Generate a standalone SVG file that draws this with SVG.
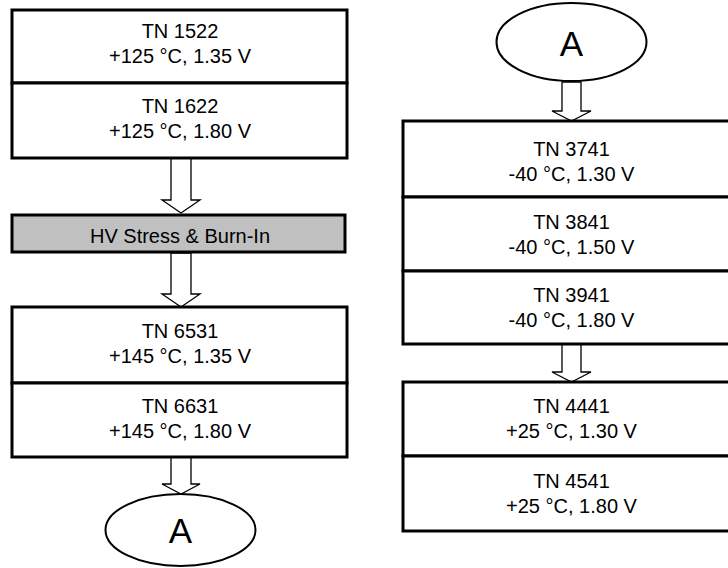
<svg xmlns="http://www.w3.org/2000/svg" width="728" height="568" viewBox="0 0 728 568">
<style>
.box{fill:#fff;stroke:#000;stroke-width:3}
.gray{fill:#c0c0c0;stroke:#000;stroke-width:3}
.ell{fill:#fff;stroke:#000;stroke-width:2}
.arr{fill:#fff;stroke:#000;stroke-width:1.3}
text{font-family:"Liberation Sans",Arial,sans-serif;font-size:20px;text-anchor:middle;fill:#000}
.big{font-size:35px}
</style>
<rect width="728" height="568" fill="#fff"/>
<g id="connectors">
<polygon class="arr" points="171,158 191,158 191,200 200,200 181,213 162,200 171,200"/>
<polygon class="arr" points="171,253 191,253 191,294 200,294 181,307 162,294 171,294"/>
<polygon class="arr" points="171,457 191,457 191,484 200,484 181,494 162,484 171,484"/>
<polygon class="arr" points="562,82 581,82 581,111 591,111 571.5,121 552,111 562,111"/>
<polygon class="arr" points="562,344 581,344 581,372 591,372 571.5,382 552,372 562,372"/>
</g>
<g id="tn1522"><rect class="box" x="12" y="10" width="335" height="73"/><text x="180" y="38">TN 1522</text><text x="180" y="63">+125 °C, 1.35 V</text></g>
<g id="tn1622"><rect class="box" x="12" y="83" width="335" height="75"/><text x="180" y="113">TN 1622</text><text x="180" y="138">+125 °C, 1.80 V</text></g>
<g id="hv"><rect class="gray" x="12" y="215" width="333" height="37"/><text x="180" y="243">HV Stress &amp; Burn-In</text></g>
<g id="tn6531"><rect class="box" x="12" y="307" width="335" height="76"/><text x="180" y="338">TN 6531</text><text x="180" y="363">+145 °C, 1.35 V</text></g>
<g id="tn6631"><rect class="box" x="12" y="383" width="335" height="74"/><text x="180" y="413">TN 6631</text><text x="180" y="438">+145 °C, 1.80 V</text></g>
<g id="a1"><ellipse class="ell" cx="180.5" cy="530" rx="75" ry="36"/><text class="big" x="180.5" y="543">A</text></g>
<g id="a2"><ellipse class="ell" cx="571.5" cy="42" rx="75" ry="39"/><text class="big" x="571.5" y="56">A</text></g>
<g id="tn3741"><rect class="box" x="403" y="121" width="335" height="76"/><text x="571.5" y="156">TN 3741</text><text x="571.5" y="181">-40 °C, 1.30 V</text></g>
<g id="tn3841"><rect class="box" x="403" y="197" width="335" height="74"/><text x="571.5" y="229">TN 3841</text><text x="571.5" y="254">-40 °C, 1.50 V</text></g>
<g id="tn3941"><rect class="box" x="403" y="271" width="335" height="73"/><text x="571.5" y="302">TN 3941</text><text x="571.5" y="327">-40 °C, 1.80 V</text></g>
<g id="tn4441"><rect class="box" x="403" y="382" width="335" height="74"/><text x="571.5" y="413">TN 4441</text><text x="571.5" y="438">+25 °C, 1.30 V</text></g>
<g id="tn4541"><rect class="box" x="403" y="456" width="335" height="75"/><text x="571.5" y="488">TN 4541</text><text x="571.5" y="513">+25 °C, 1.80 V</text></g>
</svg>
